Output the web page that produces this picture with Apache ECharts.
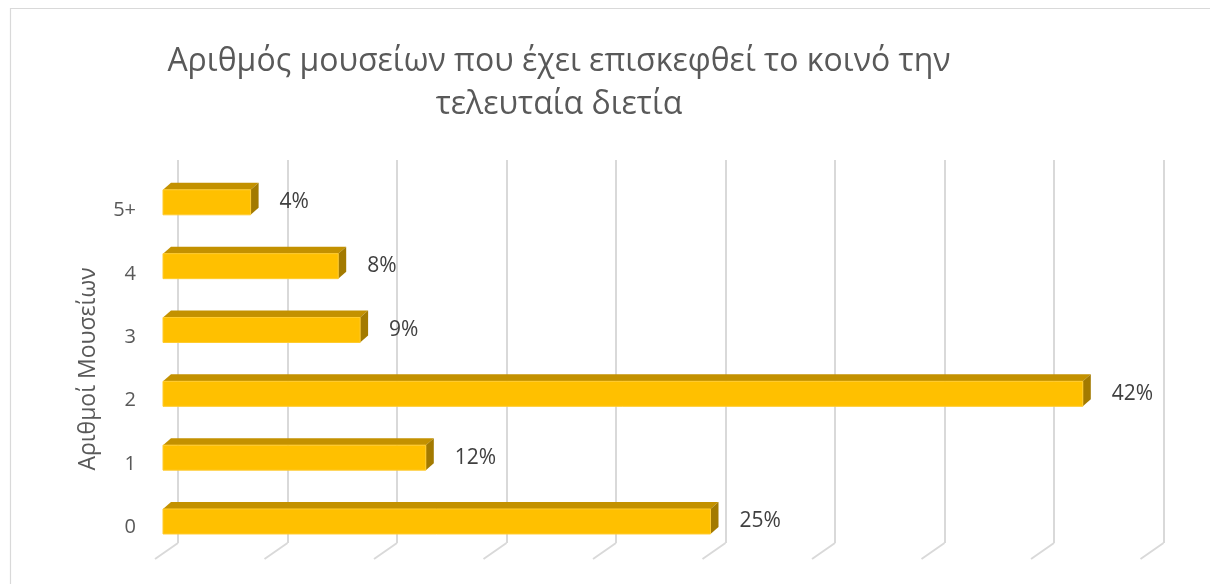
<!DOCTYPE html>
<html>
<head>
<meta charset="utf-8">
<script src="https://cdn.jsdelivr.net/npm/echarts@6/dist/echarts.min.js"></script>
<style>
  html, body { margin: 0; padding: 0; background: #ffffff; }
  #chart { width: 1210px; height: 584px; }
</style>
</head>
<body>
<div id="chart"></div>
<script>
// Number of museums visited in the last two years (share of respondents, %)
const categories = ['0', '1', '2', '3', '4', '5+'];
const shares = [25, 12, 42, 9, 8, 4];
const gridTicks = [0, 5, 10, 15, 20, 25, 30, 35, 40, 45];

const titleText = 'Αριθμός μουσείων που έχει επισκεφθεί το κοινό την\nτελευταία διετία';
const axisTitle = 'Αριθμοί Μουσείων';

const FONT = '"Open Sans", "DejaVu Sans", sans-serif';

// 3D look: shift of the bar's front face from the back wall, and its depth
const FRONT_DX = -15, FRONT_DY = 10.4;
const DEPTH_DX = 8, DEPTH_DY = -7;
const BAR_H = 25;
// floor slant of the gridlines
const FLOOR_DX = -23, FLOOR_DY = 16;

const chart = echarts.init(document.getElementById('chart'), null, { renderer: 'canvas' });

function renderBar(params, api) {
  const v = api.value(0);
  const c = api.value(1);
  const base = api.coord([0, c]);
  const end = api.coord([v, c]);
  const x0 = base[0] + FRONT_DX;
  const x1 = end[0] + FRONT_DX;
  const yc = base[1] + FRONT_DY;
  const yt = yc - BAR_H / 2;
  const yb = yc + BAR_H / 2;
  return {
    type: 'group',
    children: [
      {
        type: 'polygon',
        shape: { points: [[x0, yt], [x1, yt], [x1 + DEPTH_DX, yt + DEPTH_DY], [x0 + DEPTH_DX, yt + DEPTH_DY]] },
        style: { fill: '#C39100' }
      },
      {
        type: 'polygon',
        shape: { points: [[x1, yt], [x1 + DEPTH_DX, yt + DEPTH_DY], [x1 + DEPTH_DX, yb + DEPTH_DY], [x1, yb]] },
        style: { fill: '#A37A00' }
      },
      {
        type: 'rect',
        shape: { x: x0, y: yt, width: x1 - x0, height: BAR_H },
        style: { fill: '#FFC000', stroke: '#FFCB2E', lineWidth: 1 }
      },
      {
        type: 'text',
        x: x1 + 29,
        y: yc,
        style: {
          text: v + '%',
          fill: '#404040',
          font: '21px ' + FONT,
          textAlign: 'left',
          textVerticalAlign: 'middle'
        }
      }
    ]
  };
}

function renderFloorLine(params, api) {
  const v = api.value(0);
  const cs = params.coordSys;
  const x = api.coord([v, 0])[0];
  const y = cs.y + cs.height;
  return {
    type: 'line',
    shape: { x1: x, y1: y, x2: x + FLOOR_DX, y2: y + FLOOR_DY },
    style: { stroke: '#D9D9D9', lineWidth: 2 }
  };
}

const option = {
  backgroundColor: '#ffffff',
  animation: false,
  title: {
    text: titleText,
    left: 554,
    top: 35,
    textAlign: 'center',
    textStyle: {
      fontFamily: FONT,
      fontSize: 32,
      fontWeight: 'normal',
      color: '#595959',
      lineHeight: 43
    }
  },
  graphic: [
    {
      type: 'rect',
      silent: true,
      shape: { x: 10.5, y: 8.5, width: 1400, height: 800 },
      style: { fill: 'none', stroke: '#D9D9D9', lineWidth: 1.2 },
      z: -1
    }
  ],
  grid: [
    { left: 178, right: 46.5, top: 160, bottom: 41 },
    { left: 178, right: 46.5, top: 179, bottom: 25 }
  ],
  xAxis: [
    {
      type: 'value',
      gridIndex: 0,
      min: 0,
      max: 45,
      interval: 5,
      axisLabel: { show: false },
      axisLine: { show: false },
      axisTick: { show: false },
      splitLine: { show: true, lineStyle: { color: '#D9D9D9', width: 2 } }
    },
    {
      type: 'value',
      gridIndex: 1,
      min: 0,
      max: 45,
      interval: 5,
      show: false
    }
  ],
  yAxis: [
    {
      type: 'category',
      gridIndex: 0,
      data: categories,
      axisLabel: { show: false },
      axisLine: { show: false },
      axisTick: { show: false },
      splitLine: { show: false }
    },
    {
      type: 'category',
      gridIndex: 1,
      data: categories,
      name: axisTitle,
      nameLocation: 'middle',
      nameRotate: 90,
      nameGap: 78,
      nameTextStyle: { fontFamily: FONT, fontSize: 23, color: '#595959' },
      axisLabel: { fontFamily: FONT, fontSize: 20, color: '#595959', margin: 42 },
      axisLine: { show: false },
      axisTick: { show: false },
      splitLine: { show: false }
    }
  ],
  series: [
    {
      type: 'custom',
      name: 'floor',
      xAxisIndex: 0,
      yAxisIndex: 0,
      silent: true,
      z: 1,
      data: gridTicks.map(t => [t]),
      renderItem: renderFloorLine
    },
    {
      type: 'custom',
      name: 'Μουσεία',
      xAxisIndex: 0,
      yAxisIndex: 0,
      z: 3,
      data: shares.map((v, i) => [v, i]),
      renderItem: renderBar
    }
  ]
};

chart.setOption(option);
</script>
</body>
</html>
